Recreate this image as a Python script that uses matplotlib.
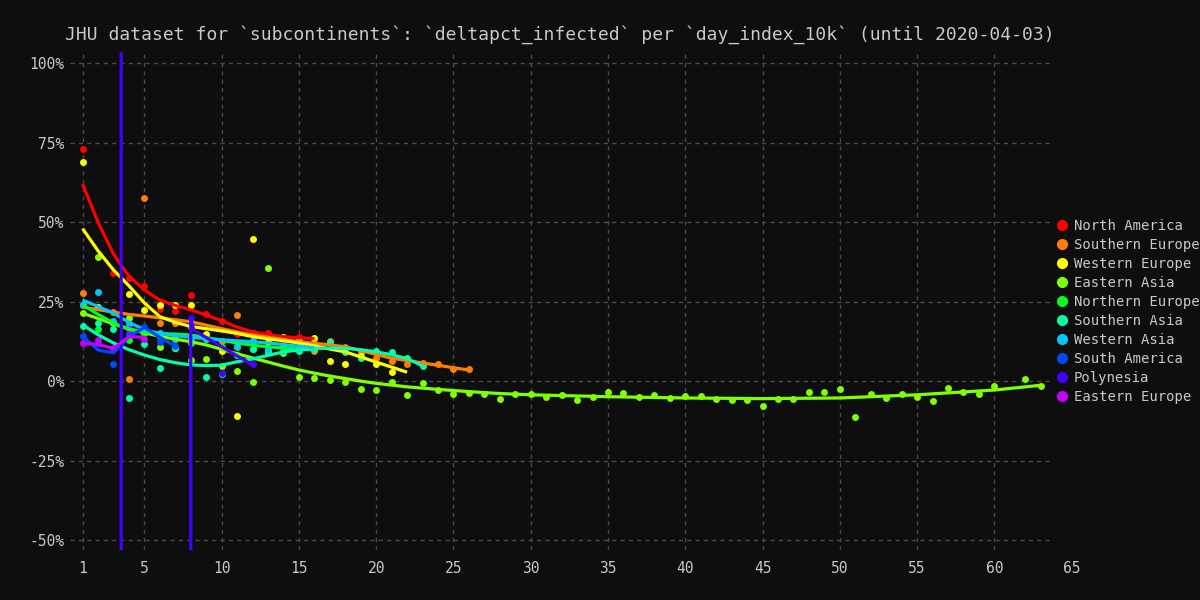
import matplotlib.pyplot as plt
import numpy as np
from matplotlib.lines import Line2D
from matplotlib.ticker import FuncFormatter

# observed points (day index, % change) and the smoothed fit per subcontinent
na_x = list(range(1, 17))
na_y = [73, 39, 34, 32.5, 30, 22.7, 22, 27, 21, 19, 14.8, 13, 15, 13, 14, 13]
na_fit = [62, 50, 40, 33, 28.7, 25.5, 23.8, 22.4, 20.8, 19, 17, 15.5, 14.6, 14, 13.6, 13.4]

se_x = [1, 3, 4, 5, 6, 7, 9, 10, 11, 12, 13, 14, 15, 16, 17, 18, 19, 20, 21, 22, 23, 24, 25, 26]
se_y = [27.7, 21.8, 0.6, 57.7, 18.4, 18.4, 14, 12.7, 20.8, 15, 14, 11, 12.3, 9.6, 12.7, 10.8,
        9.1, 7.4, 6.3, 5.3, 5.8, 5.3, 3.9, 3.7]
se_fit_x = list(range(1, 27))
se_fit = [23.3, 22.5, 21.7, 21, 20.5, 19.9, 19.3, 18.7, 17.6, 16.5, 15.5, 14.5, 13.8, 13.1, 12.4,
          11.9, 11.4, 10.8, 9.6, 8.4, 7.2, 6.5, 5.7, 5.0, 4.2, 3.5]

we_x = [1, 2, 4, 5, 6, 7, 8, 9, 10, 11, 12, 13, 14, 15, 16, 17, 18, 19, 20, 21]
we_y = [69, 23.4, 27.4, 22.4, 24, 24, 24, 14.8, 9.6, -11, 44.8, 12.3, 14, 13, 13.5, 6.4, 5.5, 8,
        5.5, 2.9]
we_fit_x = list(range(1, 23))
we_fit = [48, 41, 35, 30, 24.6, 20.3, 18.5, 17.2, 16.5, 15.8, 15, 14, 13.3, 12.7, 12, 11.1, 10.1,
          9.2, 7.6, 6, 4.4, 2.8]

ea_x = list(range(1, 61)) + [62, 63]
ea_y = [21.4, 39, 18.3, 20, 15.3, 10.8, 10.4, 6.6, 6.9, 4.8, 3.3, -0.2, 35.7, 8.7, 1.2, 1, 0.2,
        -0.2, -2.5, -2.8, -0.2, -4.5, -0.5, -2.8, -4, -3.6, -3.9, -5.7, -4.2, -4.1, -4.9, -4.4,
        -5.8, -4.9, -3.4, -3.6, -5, -4.4, -5.2, -4.7, -4.8, -5.7, -6, -6, -7.7, -5.7, -5.7, -3.5,
        -3.5, -2.5, -11.2, -3.9, -5.2, -3.9, -5, -6.2, -2.1, -3.4, -4.2, -1.6, 0.6, -1.6]
ea_fit_x = list(range(1, 21)) + [22, 24, 26, 28, 30, 35, 40, 45, 50, 55, 60, 63]
ea_fit = [21.4, 19.7, 18, 16.4, 15.2, 14.1, 13.2, 12.4, 11.4, 10, 8.6, 7.3, 6, 4.7, 3.5, 2.5, 1.6,
          0.8, 0, -0.7, -1.8, -2.6, -3.3, -3.9, -4.3, -4.9, -5.3, -5.5, -5.3, -4.3, -2.8, -1.3]

ne_x = [1, 2, 4, 5, 6, 7, 8, 9, 10, 11, 12, 13, 14, 15]
ne_y = [23.8, 16.4, 12.9, 15.3, 14.2, 13.4, 17.1, 13.1, 10.8, 10.6, 10.1, 9.2, 10.8, 10.6]
ne_fit_x = list(range(1, 17))
ne_fit = [24, 21, 18.3, 16.3, 15.5, 15, 14.8, 14.5, 13.7, 12.8, 12, 11.3, 10.8, 10.4, 10.1, 9.8]

sa_x = list(range(1, 24))
sa_y = [17.4, 18.2, 16.3, -5.2, 11.7, 4, 10.5, 12, 1.4, 2.2, 8.2, 10, 9.6, 10.6, 9.6, 10, 12.4,
        9.2, 7.4, 9.5, 9.2, 7.4, 4.7]
sa_fit = [17.7, 14.6, 12, 9.9, 8.2, 6.8, 5.8, 5.1, 4.9, 5, 6.1, 7, 8.1, 9.2, 9.8, 10.3, 10.4,
          10.3, 9.9, 9.2, 8.3, 7.1, 4.8]

wa_x = list(range(1, 17))
wa_y = [24, 28, 19, 18, 16, 15, 13.1, 13.4, 13.4, 2.2, 11, 12.5, 10, 9.5, 10.5, 11]
wa_fit = [25.5, 23.5, 21.4, 18.5, 16.2, 15, 14.3, 13.8, 13.4, 13, 12.7, 12.4, 12, 11.5, 11, 10.5]

sam_x = [1, 2, 3, 4, 5, 6, 7]
sam_y = [14.3, 12, 5.3, 14.7, 16.9, 12.4, 11]
sam_fit = [14.2, 9.8, 8.9, 14, 16.9, 13.8, 11]

po_x = [8, 10, 12]
po_y = [20, 2.7, 5.5]
po_fit_x = [3.5, 3.5, np.nan, 8, 8, 8.2, 12.2]
po_fit = [-200, 200, np.nan, -200, 20, 16, 4.5]

ee_x = [1, 2, 3, 4, 5]
ee_y = [11.9, 12.9, 10.5, 16.3, 13.1]
ee_fit = [12, 11.5, 10.3, 14, 13.8]

names = ["North America", "Southern Europe", "Western Europe", "Eastern Asia",
         "Northern Europe", "Southern Asia", "Western Asia", "South America",
         "Polynesia", "Eastern Europe"]
colors = ["#ff0000", "#ff8000", "#ffff00", "#80ff00", "#00ff22",
          "#00ffaa", "#00c8ff", "#0048ff", "#4400ff", "#c400ff"]

series = [
    (na_x, na_y, na_x, na_fit),
    (se_x, se_y, se_fit_x, se_fit),
    (we_x, we_y, we_fit_x, we_fit),
    (ea_x, ea_y, ea_fit_x, ea_fit),
    (ne_x, ne_y, ne_fit_x, ne_fit),
    (sa_x, sa_y, sa_x, sa_fit),
    (wa_x, wa_y, wa_x, wa_fit),
    (sam_x, sam_y, sam_x, sam_fit),
    (po_x, po_y, po_fit_x, po_fit),
    (ee_x, ee_y, ee_x, ee_fit),
]

bg = "#0e0e0e"
fg = "#c8c8c8"
mono = "DejaVu Sans Mono"

fig = plt.figure(figsize=(12, 6), dpi=100, facecolor=bg)
ax = fig.add_axes([0.058, 0.083, 0.817, 0.83], facecolor=bg)

for (px, py, fx, fy), color in zip(series, colors):
    ax.scatter(px, py, s=25, color=color, linewidths=0, zorder=3)
for (px, py, fx, fy), color in zip(series, colors):
    ax.plot(fx, fy, color=color, lw=2.3, zorder=4, solid_capstyle="butt")

ax.set_xlim(0.16, 63.6)
ax.set_ylim(-53.2, 103.5)
ax.set_xticks([1, 5, 10, 15, 20, 25, 30, 35, 40, 45, 50, 55, 60])
ax.set_yticks([-50, -25, 0, 25, 50, 75, 100])
ax.yaxis.set_major_formatter(FuncFormatter(lambda v, _: f"{v:.0f}%"))
ax.tick_params(length=0, colors=fg, labelsize=10.5, pad=8)
ax.tick_params(axis="y", pad=4)
for lab in ax.get_xticklabels() + ax.get_yticklabels():
    lab.set_family(mono)
ax.annotate("65", xy=(65, 0), xycoords=("data", "axes fraction"), xytext=(0, -8),
            textcoords="offset points", ha="center", va="top", color=fg,
            fontsize=10.5, family=mono, annotation_clip=False)
for s in ax.spines.values():
    s.set_visible(False)
ax.grid(True, color="#4a4a4a", lw=1, ls=(0, (3, 3)))
ax.set_axisbelow(True)

ax.set_title("JHU dataset for `subcontinents`: `deltapct_infected` per `day_index_10k` "
             "(until 2020-04-03)", color=fg, fontsize=13, family=mono, pad=9)

handles = [Line2D([], [], ls="none", marker="o", markersize=7, color=c) for c in colors]
ax.legend(handles, names, loc="center left", bbox_to_anchor=(1.0, 0.479), frameon=False,
          labelcolor=fg, prop={"family": mono, "size": 10.0}, borderaxespad=0.4,
          borderpad=0, handlelength=0.9, handletextpad=0.4, labelspacing=0.36)

fig.savefig("out.png", facecolor=bg)
